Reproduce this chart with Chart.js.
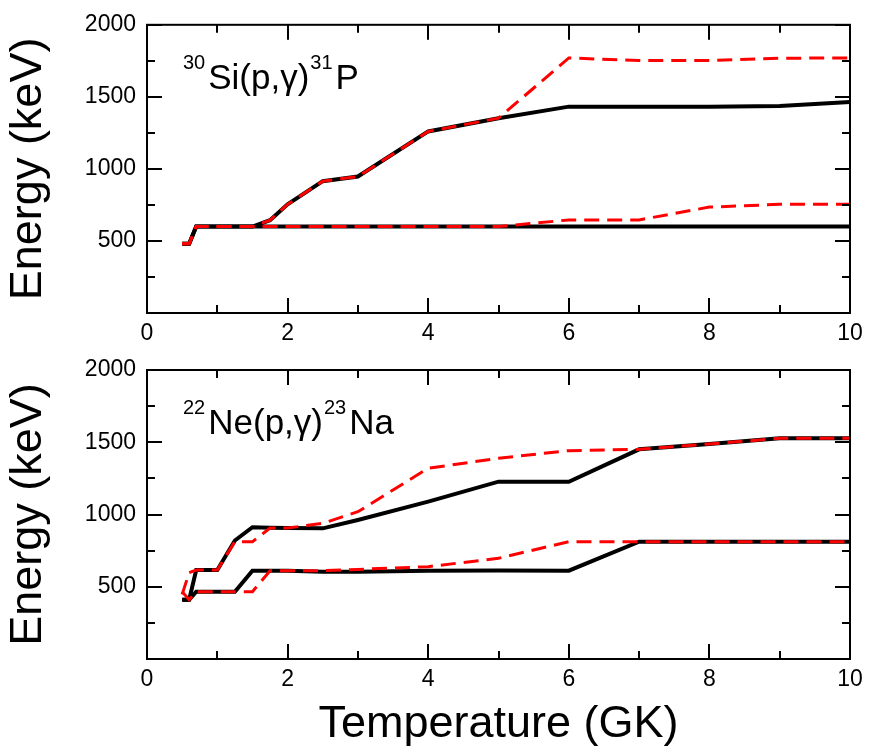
<!DOCTYPE html>
<html>
<head>
<meta charset="utf-8">
<title>Energy vs Temperature</title>
<script src="https://cdn.jsdelivr.net/npm/chart.js@4/dist/chart.umd.min.js"></script>
<style>
    body { margin: 0; background: #fff; }
    #wrap { position: relative; width: 870px; height: 754px; }
    #wrap canvas { position: absolute; left: 0; }
    #topChart { top: 0; }
    #bottomChart { top: 345px; }
</style>
</head>
<body>
<div id="wrap">
    <canvas id="topChart" width="870" height="345"></canvas>
    <canvas id="bottomChart" width="870" height="409"></canvas>
</div>
<script>
// temperature grid (GK)
var temps = [0.5, 0.6, 0.7, 1, 1.25, 1.5, 1.75, 2, 2.5, 3, 4, 5, 6, 7, 8, 9, 10];

// 30Si(p,g)31P
var siUpperSolid  = [480, 480, 600, 600, 600, 600, 644, 754, 915, 947, 1260, 1352, 1432, 1432, 1432, 1437, 1465];
var siUpperDashed = [480, 480, 600, 600, 600, 600, 644, 754, 915, 947, 1260, 1352, 1770, 1752, 1752, 1768, 1770];
var siLowerSolid  = [480, 480, 600, 600, 600, 600, 600, 600, 600, 600, 600, 600, 600, 600, 600, 600, 600];
var siLowerDashed = [480, 480, 600, 600, 600, 600, 600, 600, 600, 600, 600, 600, 646, 646, 735, 754, 754];

// 22Ne(p,g)23Na
var neUpperSolid  = [410, 410, 616, 616, 820, 912, 908, 906, 904, 962, 1089, 1227, 1227, 1451, 1488, 1527, 1527];
var neUpperDashed = [447, 598, 616, 616, 812, 812, 906, 906, 939, 1019, 1320, 1389, 1442, 1451, 1488, 1527, 1527];
var neLowerSolid  = [410, 410, 466, 466, 466, 611, 611, 611, 604, 604, 611, 613, 611, 812, 812, 812, 812];
var neLowerDashed = [466, 410, 466, 466, 466, 466, 611, 611, 611, 620, 639, 697, 812, 812, 812, 812, 812];

var xTickLabels = [0, 2, 4, 6, 8, 10];
var yTickLabels = [500, 1000, 1500, 2000];

var FONT = '"Liberation Sans", Arial, Helvetica, sans-serif';

function pts(ys) {
    return ys.map(function(y, i) { return { x: temps[i], y: y }; });
}

function solid(ys) {
    return { data: pts(ys), borderColor: '#000', borderWidth: 4, pointRadius: 0, tension: 0, fill: false };
}

function dashed(ys) {
    return { data: pts(ys), borderColor: '#ff0000', borderWidth: 3, borderDash: [15, 8], pointRadius: 0, tension: 0, fill: false };
}

// box around the plot with inward ticks on all four sides, plus the reaction label
var frameTicks = {
    id: 'frameTicks',
    afterDatasetsDraw: function(chart) {
        var ctx = chart.ctx;
        var a = chart.chartArea;
        var xs = chart.scales.x, ys = chart.scales.y;
        ctx.save();
        ctx.strokeStyle = '#000';
        ctx.lineWidth = 2;
        ctx.beginPath();
        xs.ticks.forEach(function(t) {
            var px = Math.round(xs.getPixelForValue(t.value));
            var len = xTickLabels.indexOf(t.value) >= 0 ? 15 : 8;
            ctx.moveTo(px, a.bottom); ctx.lineTo(px, a.bottom - len);
            ctx.moveTo(px, a.top); ctx.lineTo(px, a.top + len);
        });
        ys.ticks.forEach(function(t) {
            var py = Math.round(ys.getPixelForValue(t.value));
            var len = (t.value % 500 === 0) ? 15 : 8;
            ctx.moveTo(a.left, py); ctx.lineTo(a.left + len, py);
            ctx.moveTo(a.right, py); ctx.lineTo(a.right - len, py);
        });
        ctx.stroke();
        ctx.strokeRect(a.left, a.top, a.right - a.left, a.bottom - a.top);

        // reaction label with superscripts
        var parts = chart.options.plugins.frameTicks.label;
        var x = a.left + 36;
        var base = a.top + 64;
        ctx.fillStyle = '#000';
        ctx.textBaseline = 'alphabetic';
        parts.forEach(function(p) {
            var sup = p[1];
            ctx.font = (sup ? 20 : 35) + 'px ' + FONT;
            ctx.fillText(p[0], x, sup ? base - 20 : base);
            x += ctx.measureText(p[0]).width + (sup ? 3 : 1);
        });
        ctx.restore();
    }
};

function makeChart(id, sets, label, padTop, xHeight, showXTitle) {
    var ctx = document.getElementById(id).getContext('2d');
    return new Chart(ctx, {
        type: 'line',
        data: { datasets: sets },
        plugins: [frameTicks],
        options: {
            responsive: false,
            animation: false,
            layout: { padding: { top: padTop, right: 20, left: 0, bottom: 0 } },
            plugins: {
                legend: { display: false },
                tooltip: { enabled: false },
                frameTicks: { label: label }
            },
            scales: {
                x: {
                    type: 'linear', min: 0, max: 10,
                    grid: { display: false, drawTicks: false },
                    border: { display: false },
                    ticks: {
                        stepSize: 1, autoSkip: false, maxRotation: 0, padding: 7, color: '#000',
                        font: { family: FONT, size: 23 },
                        callback: function(v) { return xTickLabels.indexOf(v) >= 0 ? String(v) : ''; }
                    },
                    title: {
                        display: showXTitle, text: 'Temperature (GK)', color: '#000',
                        font: { family: FONT, size: 45 }, padding: { top: 0, bottom: 2 }
                    },
                    afterFit: function(s) { s.height = xHeight; }
                },
                y: {
                    min: 0, max: 2000,
                    grid: { display: false, drawTicks: false },
                    border: { display: false },
                    ticks: {
                        stepSize: 250, autoSkip: false, padding: 11, color: '#000',
                        font: { family: FONT, size: 23 },
                        callback: function(v) { return yTickLabels.indexOf(v) >= 0 ? String(v) : ''; }
                    },
                    title: {
                        display: true, text: 'Energy (keV)', color: '#000',
                        font: { family: FONT, size: 45 }, padding: { top: 2, bottom: 0 }
                    },
                    afterFit: function(s) { s.width = 147; }
                }
            }
        }
    });
}

// red dashed first so they are drawn on top of the black lines
makeChart('topChart',
    [dashed(siUpperDashed), dashed(siLowerDashed), solid(siUpperSolid), solid(siLowerSolid)],
    [['30', true], ['Si(p,\u03b3)', false], ['31', true], ['P', false]],
    23, 32, false);

makeChart('bottomChart',
    [dashed(neUpperDashed), dashed(neLowerDashed), solid(neUpperSolid), solid(neLowerSolid)],
    [['22', true], ['Ne(p,\u03b3)', false], ['23', true], ['Na', false]],
    25, 95, true);
</script>
</body>
</html>
